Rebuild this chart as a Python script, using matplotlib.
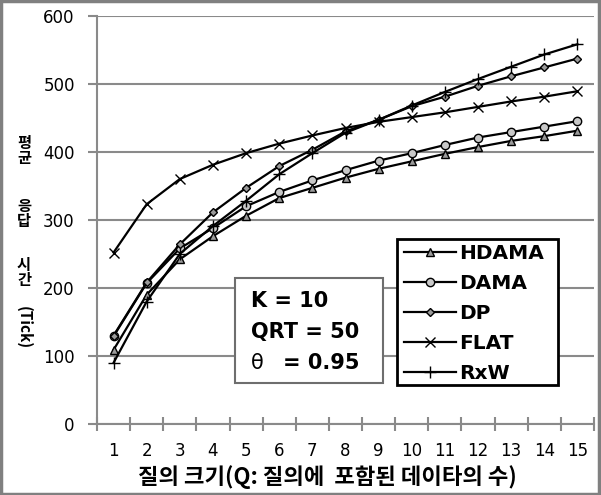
"""Average response time vs. query size, five methods."""
import matplotlib
import numpy as np

matplotlib.use("Agg")
from matplotlib import pyplot as plt
from matplotlib.patches import Rectangle

query_sizes = list(range(1, 16))
hdama = [109, 190, 242, 276, 306, 332, 347, 362, 375, 386, 397, 407, 416, 423, 431]
dama = [129, 207, 258, 288, 320, 341, 358, 373, 387, 398, 410, 421, 429, 437, 445]
dp = [130, 208, 264, 311, 347, 379, 403, 430, 447, 467, 481, 497, 511, 524, 537]
flat = [252, 323, 360, 381, 398, 412, 424, 435, 444, 451, 458, 466, 474, 481, 489]
rxw = [90, 180, 250, 291, 328, 367, 398, 428, 447, 468, 488, 507, 525, 543, 558]
y_ticks = [0, 100, 200, 300, 400, 500, 600]

W, H = 601, 495
KR = ["Noto Sans CJK KR", "DejaVu Sans"]
GRID = "#8a8a8a"


def fx(px):
    return px / W


def fy(py):
    return 1 - py / H


fig = plt.figure(figsize=(W / 100, H / 100), dpi=100)
ax = fig.add_axes([fx(97), fy(424), fx(594) - fx(97), fy(15.7) - fy(424)])

series = [
    ("HDAMA", hdama, "^", "#9a9a9a", 6),
    ("DAMA", dama, "o", "#c8c8c8", 6),
    ("DP", dp, "D", "#9a9a9a", 4.5),
    ("FLAT", flat, "x", "black", 7),
    ("RxW", rxw, "+", "black", 8),
]
for name, vals, marker, face, ms in series:
    ax.plot(query_sizes, vals, color="black", linewidth=1.6, marker=marker,
            markersize=ms, markerfacecolor=face, markeredgecolor="black",
            markeredgewidth=1.0, label=name, zorder=3)

ax.set_xlim(0.5, 15.5)
ax.set_ylim(0, 600)
ax.set_yticks(y_ticks)
ax.set_xticks(query_sizes)
ax.set_xticks(np.arange(0.5, 16, 1), minor=True)
ax.tick_params(axis="x", which="major", length=0, labelsize=12, pad=13)
ax.tick_params(axis="x", which="minor", direction="inout", length=10,
               width=1.5, color=GRID)
ax.tick_params(axis="y", length=6.5, width=1.5, color=GRID, labelsize=12, pad=9.5)
ax.yaxis.grid(True, color=GRID, linewidth=1.5)
ax.set_axisbelow(True)
for side in ("top", "right"):
    ax.spines[side].set_visible(False)
for side in ("left", "bottom"):
    ax.spines[side].set_color(GRID)
    ax.spines[side].set_linewidth(1.5)

# legend box drawn by hand so it lands where the source has it
fig.patches.append(Rectangle((fx(397), fy(385)), fx(558) - fx(397), fy(239) - fy(385),
                             transform=fig.transFigure, facecolor="white",
                             edgecolor="black", linewidth=2, zorder=4))
handles, labels = ax.get_legend_handles_labels()
leg = fig.legend(handles, labels, loc="upper left", bbox_to_anchor=(fx(404), fy(244)),
                 bbox_transform=fig.transFigure, borderaxespad=0,
                 prop={"weight": "bold", "size": 14.5}, frameon=False,
                 handlelength=2.6, handletextpad=0.15, labelspacing=0.55,
                 borderpad=0)
leg.set_zorder(5)

# parameter box
fig.patches.append(Rectangle((fx(235), fy(383)), fx(383) - fx(235), fy(278) - fy(383),
                             transform=fig.transFigure, facecolor="white",
                             edgecolor="#6e6e6e", linewidth=1.5, zorder=4))
fig.text(fx(251), fy(301), "K = 10", fontsize=15, weight="bold", va="center", zorder=6)
fig.text(fx(251), fy(332), "QRT = 50", fontsize=15, weight="bold", va="center", zorder=6)
fig.text(fx(251), fy(363), "θ", fontsize=15, va="center", zorder=6)
fig.text(fx(283), fy(363), "= 0.95", fontsize=15, weight="bold", va="center", zorder=6)

# y label: stacked hangul, then rotated (Tick)
for ch, py in [("평", 143), ("균", 158), ("응", 206), ("답", 221), ("시", 265), ("간", 280)]:
    fig.text(fx(24), fy(py), ch, family=KR, fontsize=11, weight="bold",
             ha="center", va="center")
fig.text(fx(24), fy(328), "(Tick)", family=KR, fontsize=11, weight="bold",
         rotation=270, ha="center", va="center")

fig.text(fx(327), fy(477), "질의 크기(Q: 질의에  포함된 데이타의 수)", family=KR,
         fontsize=16, weight="bold", ha="center", va="center")

# chart-area border
fig.patches.append(Rectangle((0.002, 0.003), 0.995, 0.994, transform=fig.transFigure,
                             fill=False, edgecolor="#808080", linewidth=2.5))

fig.savefig("out.png", dpi=100)
plt.close(fig)
